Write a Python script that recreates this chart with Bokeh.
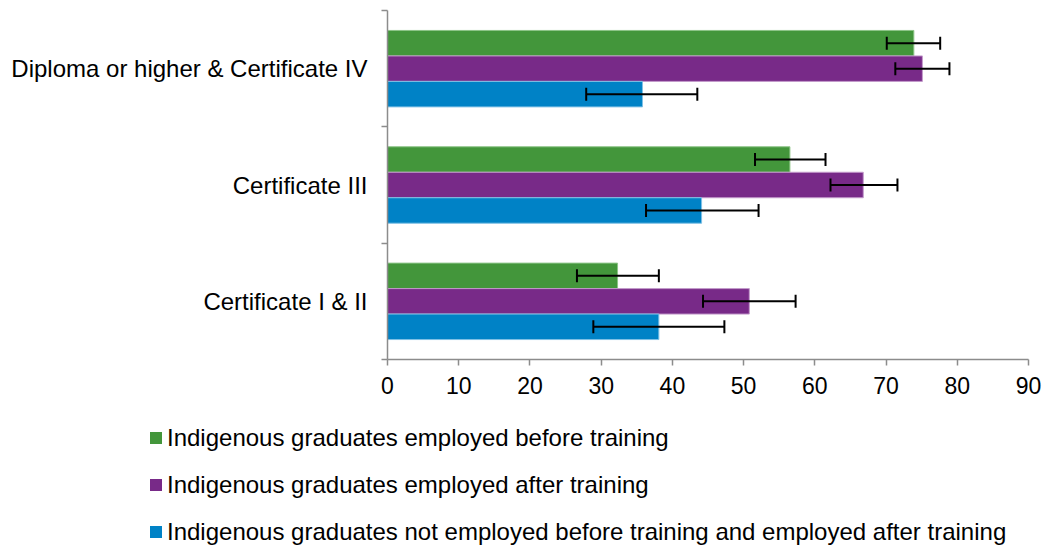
import numpy as np
from bokeh.plotting import figure
from bokeh.layouts import column
from bokeh.models import ColumnDataSource, Range1d, FixedTicker, Whisker, TeeHead, Div
from bokeh.embed import file_html
from bokeh.resources import INLINE

# ---- data (bottom to top, as drawn) ----
categories = ["Certificate I & II", "Certificate III", "Diploma or higher & Certificate IV"]
series_names = [
    "Indigenous graduates employed before training",
    "Indigenous graduates employed after training",
    "Indigenous graduates not employed before training and employed after training",
]
before_vals = [32.3, 56.5, 73.9]
before_lo = [26.6, 51.6, 70.1]
before_hi = [38.1, 61.5, 77.6]

after_vals = [50.8, 66.8, 75.1]
after_lo = [44.3, 62.2, 71.3]
after_hi = [57.3, 71.6, 78.9]

notemp_vals = [38.1, 44.1, 35.8]
notemp_lo = [28.9, 36.3, 27.9]
notemp_hi = [47.3, 52.1, 43.5]

x_ticks = [0, 10, 20, 30, 40, 50, 60, 70, 80, 90]

colors = ["#43963B", "#782A88", "#0082C6"]
edge_colors = ["#8CC486", "#C39BCB", "#7FC0E5"]

FONT = "Liberation Sans"

p = figure(width=1045, height=404, output_backend="svg", toolbar_location=None,
           x_range=Range1d(0, 90), y_range=Range1d(0, 3),
           min_border_left=387, min_border_right=17, min_border_top=10,
           min_border_bottom=45)
p.outline_line_color = None
p.grid.visible = False
p.background_fill_color = "white"
p.border_fill_color = "white"

base = np.arange(len(categories)) + 0.5
bar_h = 0.219
offsets = [bar_h, 0.0, -bar_h]

all_series = [
    (before_vals, before_lo, before_hi),
    (after_vals, after_lo, after_hi),
    (notemp_vals, notemp_lo, notemp_hi),
]

for i, (vals, lo, hi) in enumerate(all_series):
    src = ColumnDataSource(dict(y=base + offsets[i], v=vals, lo=lo, hi=hi))
    p.hbar(y="y", left=0, right="v", height=bar_h, source=src,
           fill_color=colors[i], line_color=edge_colors[i], line_width=1,
           legend_label=series_names[i])
    w = Whisker(source=src, base="y", lower="lo", upper="hi", dimension="width",
                line_color="black", line_width=2, level="overlay",
                upper_head=TeeHead(size=13, line_color="black", line_width=2),
                lower_head=TeeHead(size=13, line_color="black", line_width=2))
    p.add_layout(w)

# the plot's own legend is replaced by the HTML legend below the chart
p.legend.visible = False

# x axis
xa = p.xaxis[0]
xa.ticker = FixedTicker(ticks=x_ticks)
xa.axis_line_color = "#8C8C8C"
xa.axis_line_width = 1.5
xa.major_tick_line_color = "#8C8C8C"
xa.major_tick_line_width = 1.5
xa.major_tick_in = 0
xa.major_tick_out = 6
xa.minor_tick_line_color = None
xa.major_label_text_font = FONT
xa.major_label_text_font_size = "23px"
xa.major_label_text_color = "black"
xa.major_label_standoff = 11

# y axis: labels at band centres, tick marks at band boundaries
ya = p.yaxis[0]
ya.ticker = FixedTicker(ticks=list(base), minor_ticks=list(range(len(categories) + 1)))
ya.major_label_overrides = {float(b): c for b, c in zip(base, categories)}
ya.axis_line_color = "#8C8C8C"
ya.axis_line_width = 1.5
ya.major_tick_line_color = None
ya.major_tick_out = 0
ya.major_tick_in = 0
ya.minor_tick_line_color = "#8C8C8C"
ya.minor_tick_line_width = 1.5
ya.minor_tick_in = 0
ya.minor_tick_out = 6
ya.major_label_text_font = FONT
ya.major_label_text_font_size = "24px"
ya.major_label_text_color = "black"
ya.major_label_standoff = 14

# ---- legend below the chart ----
rows = []
for i, name in enumerate(series_names):
    top = 22 + i * 47
    rows.append(
        f'<div style="position:absolute;left:150px;top:{top}px;height:24px;'
        f'display:flex;align-items:center;white-space:nowrap;">'
        f'<span style="display:inline-block;width:12px;height:12px;'
        f'background:{colors[i]};margin-right:5px;"></span>'
        f'<span style="font-family:\'{FONT}\';font-size:24px;line-height:24px;'
        f'color:black;">{name}</span></div>'
    )
legend_div = Div(text="".join(rows), width=1045, height=145, margin=(0, 0, 0, 0),
                 styles={"position": "relative"})

layout = column(p, legend_div, spacing=0)
open("out.html", "w").write(file_html(layout, INLINE))
